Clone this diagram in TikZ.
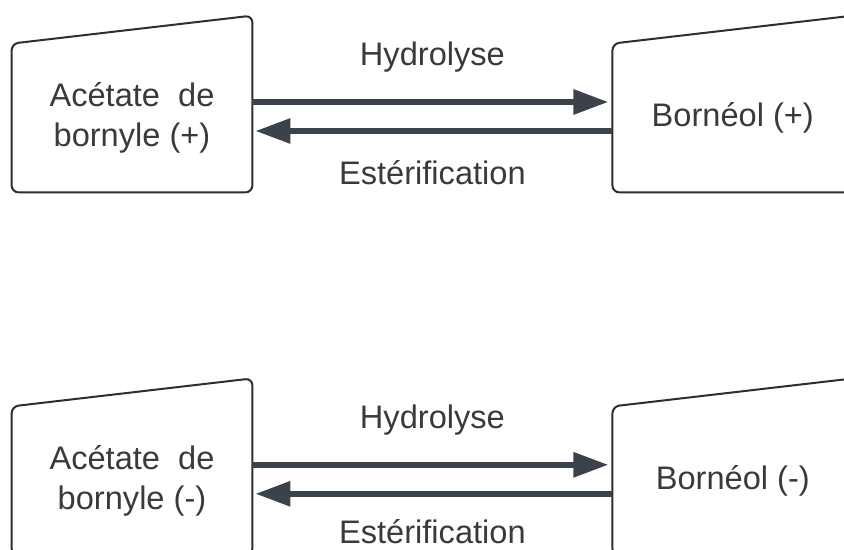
\documentclass[tikz,border=0pt]{standalone}
\usepackage{fontspec}
\usepackage{tikz}
\usepackage{xcolor}
\usetikzlibrary{arrows.meta,positioning}
\newfontfamily\diagfont{Liberation Sans}
\definecolor{inkgray}{HTML}{3A3A3A}
\definecolor{edgegray}{HTML}{2E2E2E}
\definecolor{slate}{HTML}{3B424C}

\begin{document}
\begin{tikzpicture}[
  x=0.5pt, y=-0.5pt,
  node distance=105pt and 180pt,
  substance/.style={minimum width=120pt, minimum height=76pt, inner sep=0pt, align=center,
    text=inkgray, font=\diagfont\fontsize{16.3}{20}\selectfont},
  boxline/.style={draw=edgegray, line width=1pt, rounded corners=3.5pt},
  arrow/.style={-{Triangle[length=17.5pt, width=12pt]}, line width=3pt, draw=slate},
  lbl/.style={inner sep=0pt, text=inkgray, font=\diagfont\fontsize{16.3}{20}\selectfont}
]
\path[use as bounding box, clip] (0,0) rectangle (844,550);

\node[substance] (acetp) at (132,118) {Acétate~ de\\bornyle (+)};
\node[substance, right=of acetp] (bornp) {Bornéol (+)};
\node[substance, below=of acetp] (acetm) {Acétate~ de\\bornyle (-)};
\node[substance, right=of acetm] (bornm) {Bornéol (-)};

% manual input shapes
\foreach \n in {acetp,bornp,acetm,bornm}
  \draw[boxline] ([yshift=1pt]\n.south west) -- ([yshift=-1pt]\n.north west) -- ([yshift=13pt]\n.north east)
    -- ([yshift=1pt]\n.south east) -- cycle;

\draw[arrow, shorten >=2pt] ([yshift=8pt]acetp.east) -- node[lbl, above=13.5pt] {Hydrolyse} ([yshift=8pt]bornp.west);
\draw[arrow, shorten >=1.5pt] ([yshift=-6.5pt]bornp.west) -- node[lbl, below=13pt] {Estérification} ([yshift=-6.5pt]acetp.east);
\draw[arrow, shorten >=2pt] ([yshift=8pt]acetm.east) -- node[lbl, above=13.5pt] {Hydrolyse} ([yshift=8pt]bornm.west);
\draw[arrow, shorten >=1.5pt] ([yshift=-6.5pt]bornm.west) -- node[lbl, below=11.5pt] {Estérification} ([yshift=-6.5pt]acetm.east);
\end{tikzpicture}
\end{document}
